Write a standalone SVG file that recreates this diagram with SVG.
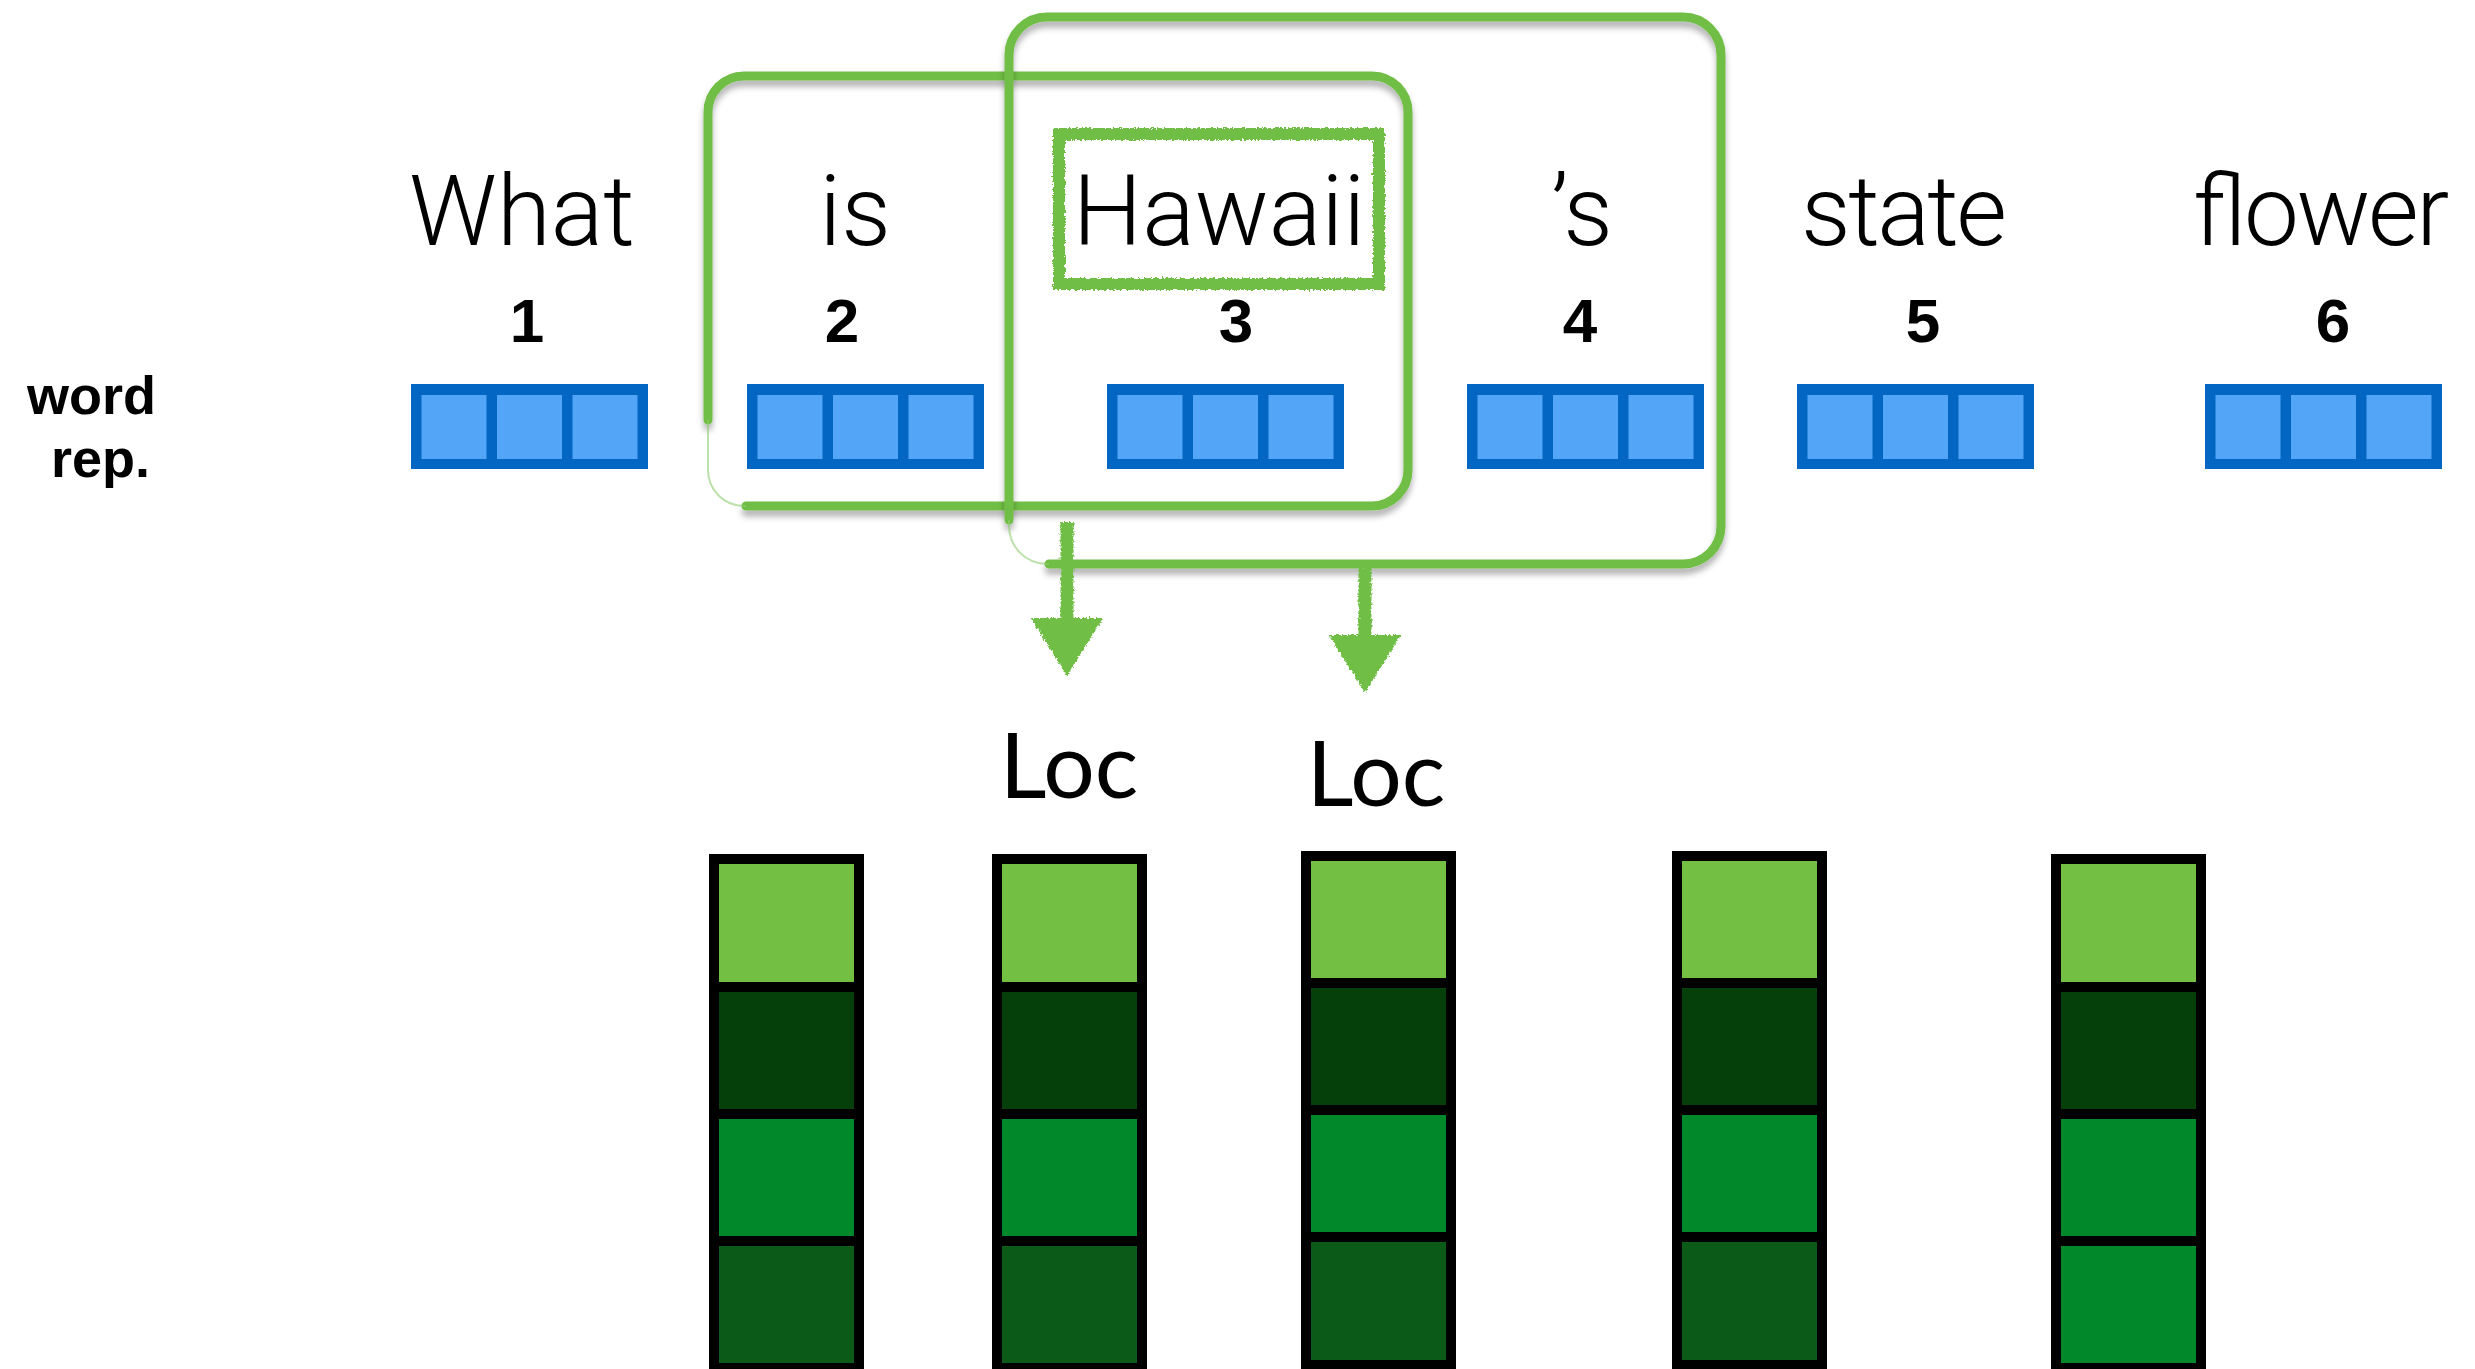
<svg xmlns="http://www.w3.org/2000/svg" width="2475" height="1369" viewBox="0 0 2475 1369">
<style>
.word{font-family:Roboto,"Liberation Sans",sans-serif;font-weight:300;font-size:98px;fill:#000;text-anchor:middle}
.idx{font-family:"Liberation Sans",Arial,sans-serif;font-weight:bold;font-size:62px;fill:#000;text-anchor:middle}
.side{font-family:"Liberation Sans",Arial,sans-serif;font-weight:bold;font-size:54px;fill:#000}
.tag{font-family:Lato,"Noto Sans",sans-serif;font-size:91px;fill:#000;text-anchor:middle}
.win{fill:none;stroke:#6FBE44;stroke-width:9;stroke-linecap:round}
.faint{fill:none;stroke:#8FCB70;stroke-width:2;opacity:.6}
.hl{fill:none;stroke:#6FBE44;stroke-width:12}
.arrow{fill:none;stroke:#6FBE44;stroke-width:13}
.cell{stroke:#000;stroke-width:10}
.g1{fill:#72BF44}.g2{fill:#053F0A}.g3{fill:#00882B}.g4{fill:#0B5A18}
.rep-o{fill:#0366C2}.rep-i{fill:#53A6F7}
</style>
<defs>
  <filter id="shadow" filterUnits="userSpaceOnUse" x="0" y="0" width="2475" height="1369">
    <feDropShadow dx="0" dy="6" stdDeviation="3" flood-color="#000" flood-opacity="0.3"/>
  </filter>
  <filter id="chalk" filterUnits="userSpaceOnUse" x="0" y="0" width="2475" height="1369">
    <feTurbulence type="fractalNoise" baseFrequency="0.45" numOctaves="2" seed="4" result="n"/>
    <feDisplacementMap in="SourceGraphic" in2="n" scale="5" xChannelSelector="R" yChannelSelector="G"/>
  </filter>
  <marker id="head" viewBox="0 0 58 72" markerWidth="58" markerHeight="72" refX="6" refY="36" orient="auto" markerUnits="userSpaceOnUse">
    <path d="M0,0 L58,36 L0,72 Z" fill="#6FBE44"/>
  </marker>
  <!-- three-slot word vector -->
  <g id="rep">
    <rect class="rep-o" x="0" y="384" width="237" height="85"/>
    <rect class="rep-i" x="10.5" y="395" width="65" height="64"/>
    <rect class="rep-i" x="86" y="395" width="65" height="64"/>
    <rect class="rep-i" x="161.5" y="395" width="65" height="64"/>
  </g>
</defs>

<rect width="2475" height="1369" fill="#fff"/>

<!-- row label -->
<g id="row-label">
  <text class="side" x="27" y="414">word</text>
  <text class="side" x="51" y="477">rep.</text>
</g>

<!-- tokens: word, position, word representation -->
<g id="token-1">
  <text class="word" x="522" y="245">What</text>
  <text class="idx" x="527" y="342">1</text>
  <use href="#rep" x="411"/>
</g>
<g id="token-2">
  <text class="word" x="855" y="245">is</text>
  <text class="idx" x="842" y="342">2</text>
  <use href="#rep" x="747"/>
</g>
<g id="token-3">
  <text class="word" x="1219" y="245">Hawaii</text>
  <text class="idx" x="1236" y="342">3</text>
  <use href="#rep" x="1107"/>
</g>
<g id="token-4">
  <text class="word" x="1582" y="245">’s</text>
  <text class="idx" x="1580" y="342">4</text>
  <use href="#rep" x="1467"/>
</g>
<g id="token-5">
  <text class="word" x="1904" y="245" textLength="206">state</text>
  <text class="idx" x="1923" y="342">5</text>
  <use href="#rep" x="1797"/>
</g>
<g id="token-6">
  <text class="word" x="2320" y="245" textLength="256">flower</text>
  <text class="idx" x="2333" y="342">6</text>
  <use href="#rep" x="2205"/>
</g>

<!-- highlighted target word -->
<g id="highlight-hawaii" filter="url(#chalk)">
  <rect class="hl" x="1059" y="134" width="320" height="150"/>
</g>

<!-- context windows -->
<g id="window-2-3">
  <path class="win" filter="url(#shadow)" d="M708,420 V112 A36,36 0 0 1 744,76 H1372 A36,36 0 0 1 1408,112 V470 A36,36 0 0 1 1372,506 H746"/>
  <path class="faint" d="M746,506 H744 A36,36 0 0 1 708,470 V420"/>
</g>
<g id="window-3-4">
  <path class="win" filter="url(#shadow)" d="M1009,520 V55 A38,38 0 0 1 1047,17 H1683 A38,38 0 0 1 1721,55 V526 A38,38 0 0 1 1683,564 H1049"/>
  <path class="faint" d="M1049,564 H1047 A38,38 0 0 1 1009,526 V520"/>
</g>

<!-- window outputs -->
<g id="connectors" filter="url(#chalk)">
  <path class="arrow" d="M1067,522 V624" marker-end="url(#head)"/>
  <path class="arrow" d="M1365,568 V641" marker-end="url(#head)"/>
</g>

<g id="label-loc-1"><text class="tag" x="1069" y="798">Loc</text></g>
<g id="label-loc-2"><text class="tag" x="1376" y="806">Loc</text></g>

<!-- output feature columns -->
<g id="column-1">
  <rect class="cell g1" x="714" y="859" width="145" height="128"/>
  <rect class="cell g2" x="714" y="987" width="145" height="127"/>
  <rect class="cell g3" x="714" y="1114" width="145" height="127"/>
  <rect class="cell g4" x="714" y="1241" width="145" height="127"/>
</g>
<g id="column-2">
  <rect class="cell g1" x="997" y="859" width="145" height="128"/>
  <rect class="cell g2" x="997" y="987" width="145" height="127"/>
  <rect class="cell g3" x="997" y="1114" width="145" height="127"/>
  <rect class="cell g4" x="997" y="1241" width="145" height="127"/>
</g>
<g id="column-3">
  <rect class="cell g1" x="1306" y="856" width="145" height="127"/>
  <rect class="cell g2" x="1306" y="983" width="145" height="127"/>
  <rect class="cell g3" x="1306" y="1110" width="145" height="127"/>
  <rect class="cell g4" x="1306" y="1237" width="145" height="128"/>
</g>
<g id="column-4">
  <rect class="cell g1" x="1677" y="856" width="145" height="127"/>
  <rect class="cell g2" x="1677" y="983" width="145" height="127"/>
  <rect class="cell g3" x="1677" y="1110" width="145" height="127"/>
  <rect class="cell g4" x="1677" y="1237" width="145" height="128"/>
</g>
<g id="column-5">
  <rect class="cell g1" x="2056" y="859" width="145" height="128"/>
  <rect class="cell g2" x="2056" y="987" width="145" height="127"/>
  <rect class="cell g3" x="2056" y="1114" width="145" height="127"/>
  <rect class="cell g3" x="2056" y="1241" width="145" height="127"/>
</g>
</svg>
